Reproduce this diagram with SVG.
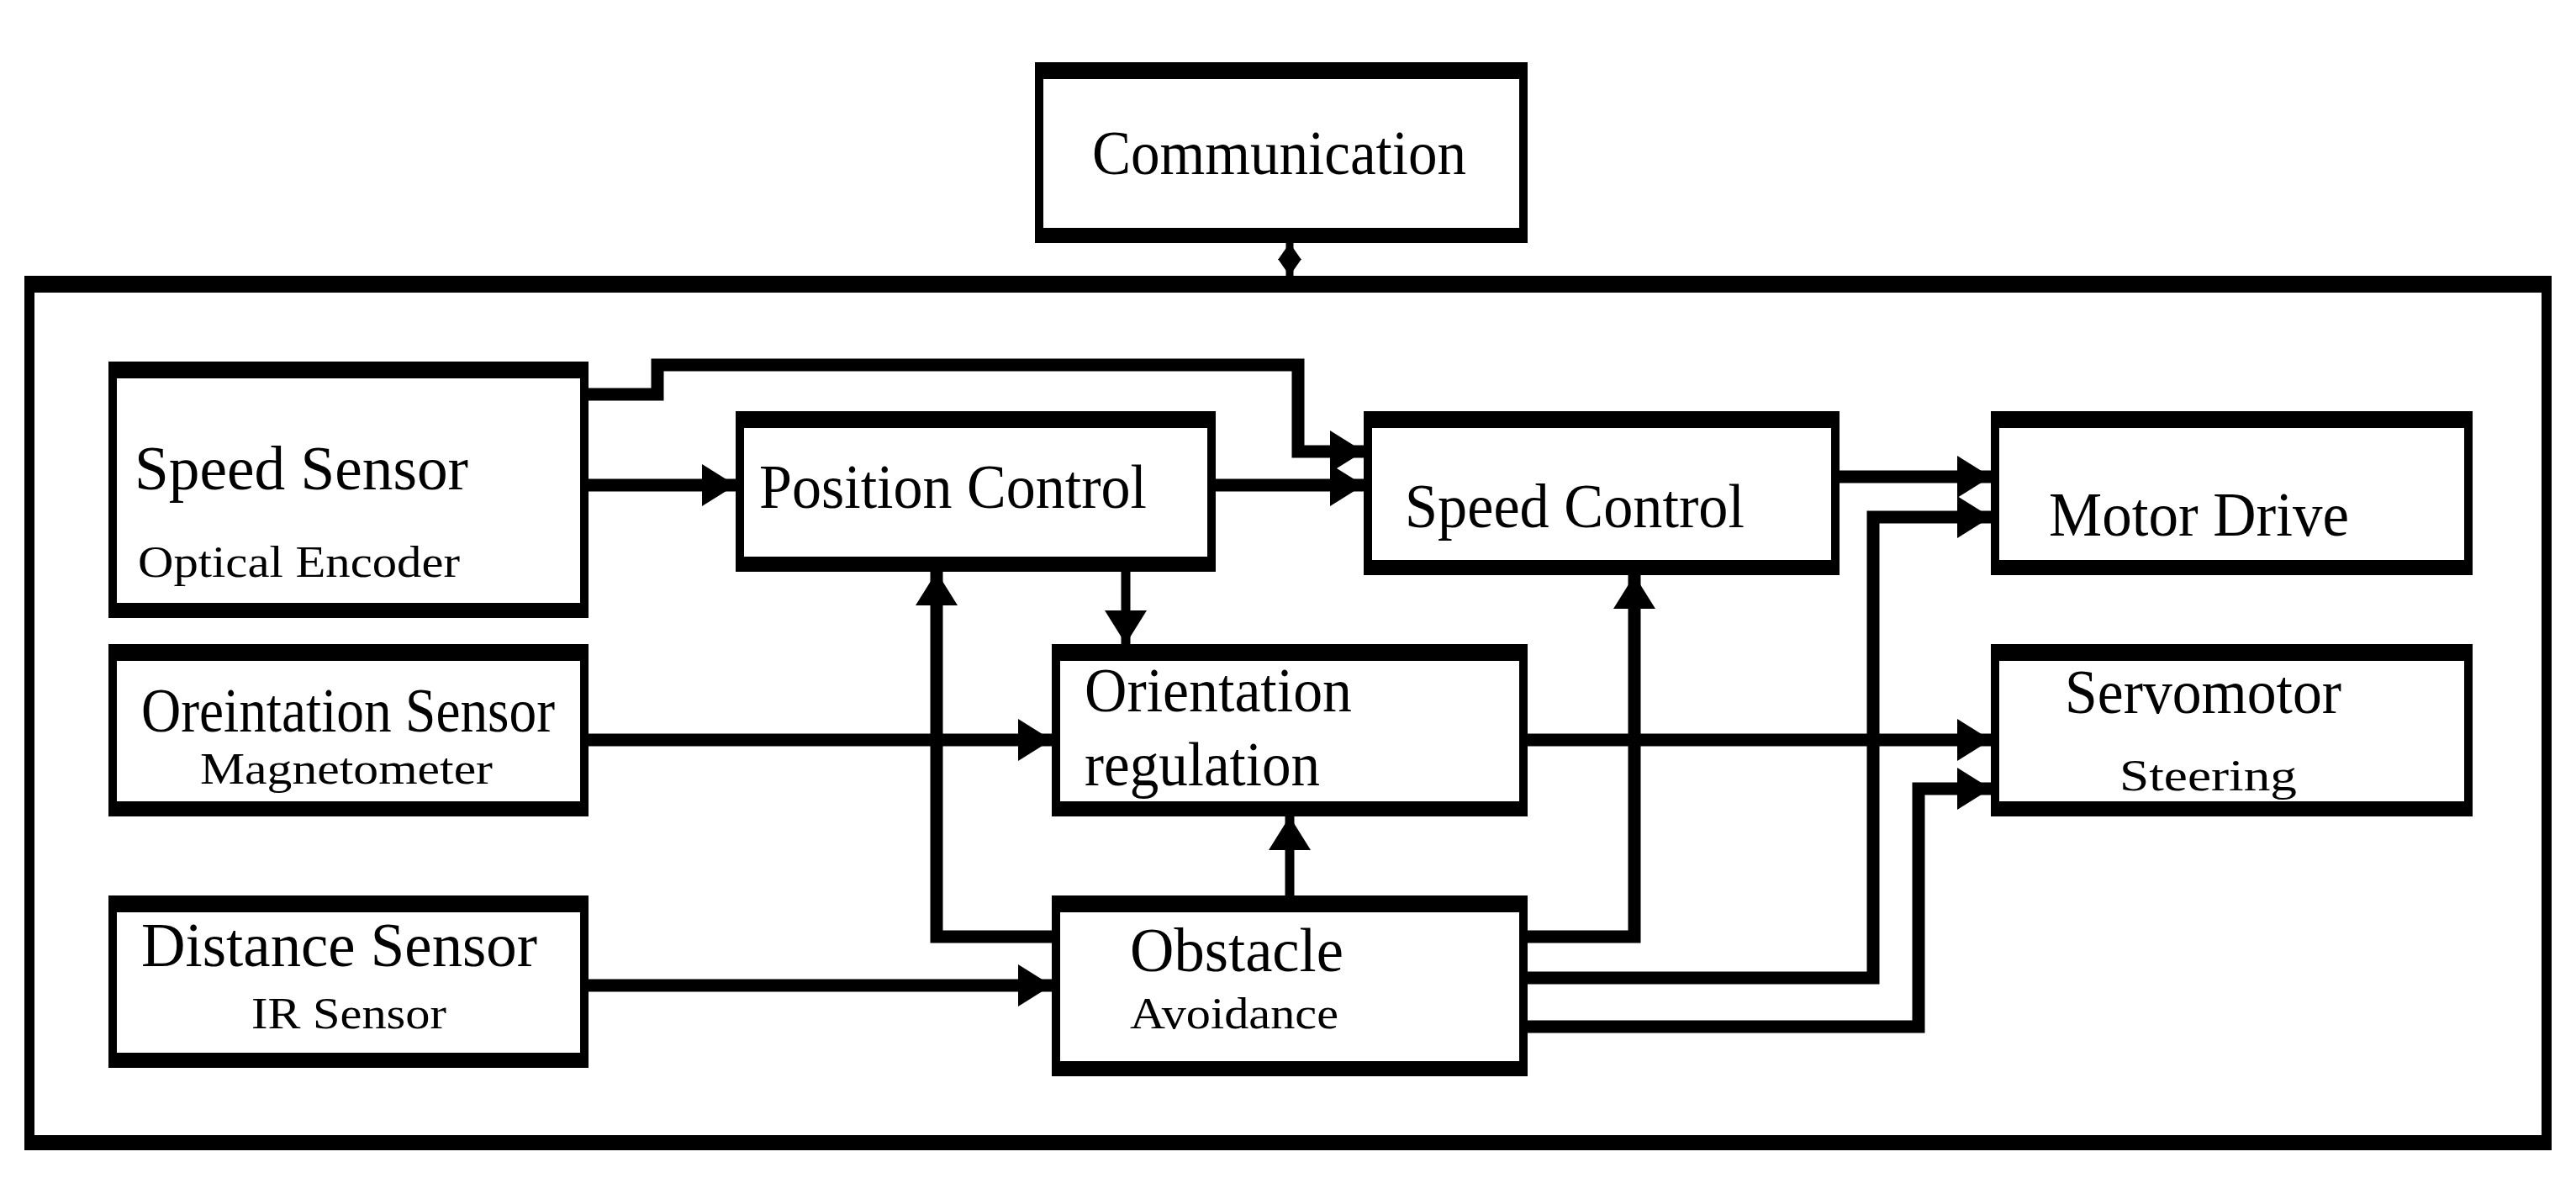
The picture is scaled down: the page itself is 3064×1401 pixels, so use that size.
<svg xmlns="http://www.w3.org/2000/svg" width="3064" height="1401" viewBox="0 0 3064 1401">
<style>
.o{fill:#000}.i{fill:#fff}
text{font-family:"Liberation Serif","Times New Roman",serif;fill:#000}
.m{font-size:74px}.s{font-size:52px}
.c{fill:none;stroke:#000;stroke-width:15}
</style>
<defs>
<marker id="a" markerUnits="userSpaceOnUse" markerWidth="40" markerHeight="50" refX="40" refY="25" orient="auto"><path d="M0,0L40,25L0,50z"/></marker>
<marker id="b" markerUnits="userSpaceOnUse" markerWidth="20" markerHeight="28" refX="20" refY="14" orient="auto-start-reverse"><path d="M0,0L20,14L0,28z"/></marker>
</defs>
<rect width="3064" height="1401" fill="#fff"/>
<g id="frame"><rect class="o" x="29" y="328" width="3006" height="1040"/><rect class="i" x="41" y="348" width="2982" height="1002"/></g>
<g id="communication"><rect class="o" x="1231" y="74" width="586" height="215"/><rect class="i" x="1241" y="94" width="566" height="177"/><text class="m" x="1299" y="207" textLength="445" lengthAdjust="spacingAndGlyphs">Communication</text></g>
<g id="speed-sensor"><rect class="o" x="129" y="430" width="571" height="305"/><rect class="i" x="139" y="450" width="551" height="267"/><text class="m" x="160" y="582" textLength="397" lengthAdjust="spacingAndGlyphs">Speed Sensor</text><text class="s" x="164" y="686" textLength="383" lengthAdjust="spacingAndGlyphs">Optical Encoder</text></g>
<g id="position-control"><rect class="o" x="875" y="489" width="571" height="191"/><rect class="i" x="885" y="509" width="551" height="153"/><text class="m" x="903" y="604" textLength="461" lengthAdjust="spacingAndGlyphs">Position Control</text></g>
<g id="speed-control"><rect class="o" x="1622" y="489" width="566" height="195"/><rect class="i" x="1632" y="509" width="546" height="157"/><text class="m" x="1671" y="627" textLength="404" lengthAdjust="spacingAndGlyphs">Speed Control</text></g>
<g id="motor-drive"><rect class="o" x="2368" y="489" width="573" height="195"/><rect class="i" x="2378" y="509" width="553" height="157"/><text class="m" x="2437" y="637" textLength="357" lengthAdjust="spacingAndGlyphs">Motor Drive</text></g>
<g id="orientation-sensor"><rect class="o" x="129" y="766" width="571" height="205"/><rect class="i" x="139" y="786" width="551" height="167"/><text class="m" x="168" y="870" textLength="492" lengthAdjust="spacingAndGlyphs">Oreintation Sensor</text><text class="s" x="238" y="932" textLength="348" lengthAdjust="spacingAndGlyphs">Magnetometer</text></g>
<g id="orientation-regulation"><rect class="o" x="1251" y="766" width="566" height="205"/><rect class="i" x="1261" y="786" width="546" height="167"/><text class="m" x="1290" y="846" textLength="318" lengthAdjust="spacingAndGlyphs">Orientation</text><text class="m" x="1290" y="934" textLength="280" lengthAdjust="spacingAndGlyphs">regulation</text></g>
<g id="servomotor"><rect class="o" x="2368" y="766" width="573" height="205"/><rect class="i" x="2378" y="786" width="553" height="167"/><text class="m" x="2456" y="848" textLength="329" lengthAdjust="spacingAndGlyphs">Servomotor</text><text class="s" x="2521" y="940" textLength="211" lengthAdjust="spacingAndGlyphs">Steering</text></g>
<g id="distance-sensor"><rect class="o" x="129" y="1065" width="571" height="205"/><rect class="i" x="139" y="1085" width="551" height="167"/><text class="m" x="168" y="1149" textLength="471" lengthAdjust="spacingAndGlyphs">Distance Sensor</text><text class="s" x="299" y="1223" textLength="232" lengthAdjust="spacingAndGlyphs">IR Sensor</text></g>
<g id="obstacle-avoidance"><rect class="o" x="1251" y="1065" width="566" height="215"/><rect class="i" x="1261" y="1085" width="546" height="177"/><text class="m" x="1344" y="1155" textLength="254" lengthAdjust="spacingAndGlyphs">Obstacle</text><text class="s" x="1344" y="1223" textLength="248" lengthAdjust="spacingAndGlyphs">Avoidance</text></g>
<g id="connectors">
<path class="c" style="stroke-width:9" d="M1534,289V328" marker-start="url(#b)" marker-end="url(#b)"/>
<path class="c" d="M700,469H782V434H1544V537H1622" marker-end="url(#a)"/>
<path class="c" d="M700,577H875" marker-end="url(#a)"/>
<path class="c" d="M1446,577H1622" marker-end="url(#a)"/>
<path class="c" d="M2188,567H2368" marker-end="url(#a)"/>
<path class="c" d="M1817,1163H2228V615H2368" marker-end="url(#a)"/>
<path class="c" d="M1817,1221H2282V938H2368" marker-end="url(#a)"/>
<path class="c" d="M1817,880H2368" marker-end="url(#a)"/>
<path class="c" d="M700,880H1251" marker-end="url(#a)"/>
<path class="c" d="M700,1172H1251" marker-end="url(#a)"/>
<path class="c" d="M1251,1114H1114V680" marker-end="url(#a)"/>
<path class="c" style="stroke-width:11" d="M1339,680V766" marker-end="url(#a)"/>
<path class="c" style="stroke-width:11" d="M1534,1065V971" marker-end="url(#a)"/>
<path class="c" d="M1817,1114H1944V684" marker-end="url(#a)"/>
</g>
</svg>
